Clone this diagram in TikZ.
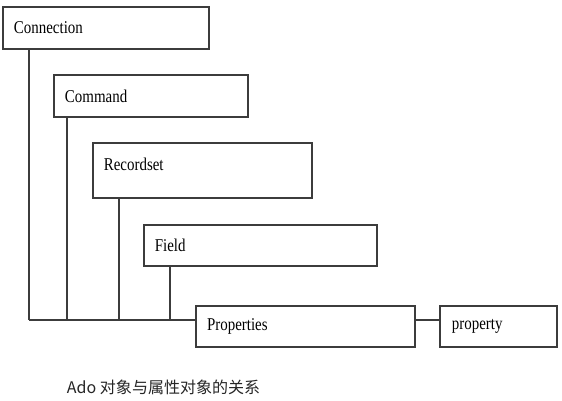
\documentclass[tikz,border=0pt]{standalone}
\usepackage{fontspec}
\usetikzlibrary{calc}
\newfontfamily\boxfont{Liberation Serif}[FakeStretch=0.83]
\newfontfamily\cjkfont{Noto Sans CJK SC}
\definecolor{linegray}{RGB}{60,60,60}

\tikzset{
  objbox/.style={draw=linegray, line width=1pt, fill=white, inner xsep=0.275cm,
    inner ysep=0pt, align=left, font=\fontsize{12.8}{14}\boxfont},
  link/.style={draw=linegray, line width=1pt}
}

\begin{document}
\begin{tikzpicture}

% Background
\fill[white] (0,0) rectangle (14.05,-10.025);
\useasboundingbox (0,0) rectangle (14.05,-10.025);

% Object boxes
\node[objbox, text width=4.6cm, minimum height=1.05cm] (conn) at (2.65,-0.7) {Connection};
\node[objbox, text width=4.3cm, minimum height=1.05cm] (cmd) at (3.775,-2.4) {Command};
\node[objbox, text width=4.925cm, minimum height=1.375cm, text depth=0.3cm] (rs) at (5.06,-4.26) {Recordset};
\node[objbox, text width=5.275cm, minimum height=1.025cm] (fld) at (6.51,-6.14) {Field};
\node[objbox, text width=4.925cm, minimum height=1.025cm] (props) at (7.64,-8.16) {Properties};
\node[objbox, text width=2.325cm, inner xsep=0.3cm, minimum height=1.025cm] (prop) at (12.46,-8.16) {property};

% Bus
\coordinate (t1) at (0.725,-8.0);
\coordinate (t2) at (1.675,-8.0);
\coordinate (t3) at (2.975,-8.0);
\coordinate (t4) at (4.25,-8.0);
\coordinate (bus) at (props.west |- t1);
\coordinate (busR) at (props.east |- t1);

\draw[link] (conn.south -| t1) -- (t1);
\draw[link] (cmd.south -| t2) -- (t2);
\draw[link] (rs.south -| t3) -- (t3);
\draw[link] (fld.south -| t4) -- (t4);
\draw[link] (t1) -- (bus);
\draw[link] (busR) -- (prop.west |- busR);

% Caption
\node[font=\fontsize{11.4}{13}\cjkfont, text=black!85] (cap) at (4.09,-9.675)
  {Ado 对象与属性对象的关系};

\end{tikzpicture}
\end{document}
